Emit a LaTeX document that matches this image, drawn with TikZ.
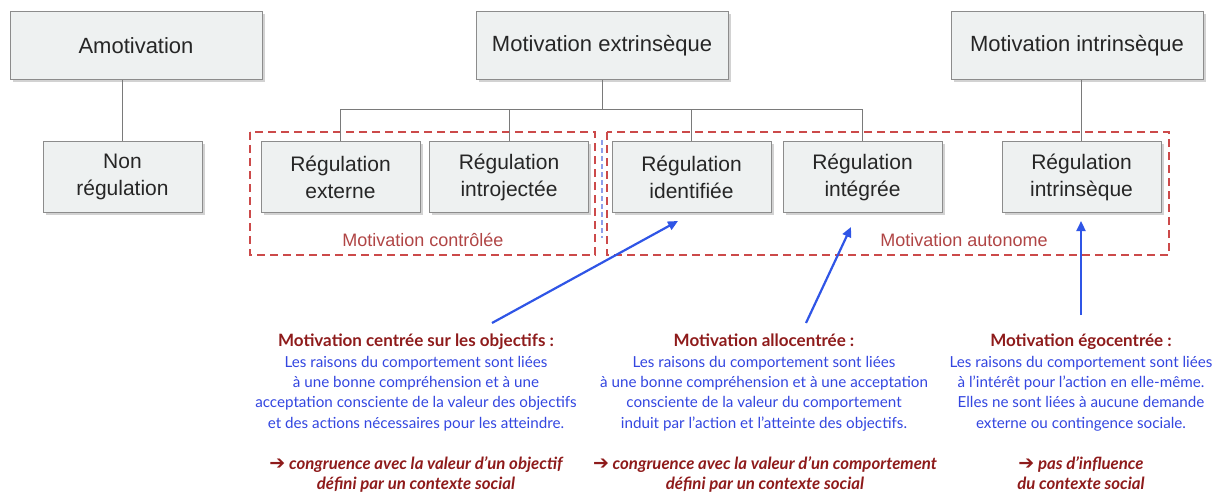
\documentclass[tikz,border=0pt]{standalone}
\usepackage{fontspec}
\setmainfont{Liberation Sans}
\newfontfamily\gill{Lato}
\newfontfamily\arrowfont{DejaVu Sans}
\usetikzlibrary{shadows,arrows.meta}
\definecolor{boxfill}{HTML}{EEF1F1}
\definecolor{boxline}{HTML}{8C8C8C}
\definecolor{treeline}{HTML}{7A7A7A}
\definecolor{framered}{HTML}{CC4A4A}
\definecolor{labelred}{HTML}{B04545}
\definecolor{titlered}{HTML}{8E1B1B}
\definecolor{bodyblue}{HTML}{3346E0}
\definecolor{arrowblue}{HTML}{2F55E6}
\definecolor{dashblue}{HTML}{8E9EEA}
\tikzset{
  topbox/.style={draw=boxline, line width=1pt, fill=boxfill, minimum width=252pt, minimum height=68pt,
    inner sep=0pt, drop shadow={shadow xshift=2.5pt, shadow yshift=-2.5pt, fill=black!35},
    font=\fontsize{22}{26}\selectfont, text=black!85},
  regbox/.style={draw=boxline, line width=1pt, fill=boxfill, minimum width=159pt, minimum height=70pt,
    inner sep=0pt, align=center, drop shadow={shadow xshift=2.5pt, shadow yshift=-2.5pt, fill=black!35},
    font=\fontsize{21}{27}\selectfont, text=black!85},
  tree/.style={draw=treeline, line width=1pt},
  frame/.style={draw=framered, line width=1.8pt, dash pattern=on 8pt off 5pt},
  grplabel/.style={text=labelred, font=\fontsize{18}{20}\selectfont, inner sep=0pt},
  ttl/.style={text=titlered, font=\gill\bfseries\fontsize{17}{20}\selectfont, inner sep=0pt, anchor=base},
  body/.style={text=bodyblue, font=\gill\fontsize{15.2}{20.3}\selectfont, inner sep=0pt, align=center, anchor=north},
  concl/.style={text=titlered, font=\gill\bfseries\itshape\fontsize{16.8}{20}\selectfont, inner sep=0pt, align=center, anchor=north},
  arr/.style={draw=arrowblue, line width=2.2pt, -{Triangle[length=10pt,width=9pt]}},
}
\newcommand{\heavyarrow}{{\arrowfont\bfseries\fontsize{19}{20}\selectfont ➔}}
\begin{document}
\begin{tikzpicture}[x=1pt,y=-1pt]
\useasboundingbox (0,0) rectangle (1218,492);
% group frames
\draw[frame] (250,132) rectangle (595,255);
\draw[frame] (607,132) rectangle (1169,255);
\draw[draw=dashblue, line width=1.3pt, dash pattern=on 5pt off 3pt] (602,140) -- (602,238);
\node[grplabel] (lctrl) at (423,240) {Motivation contrôlée};
\node[grplabel] (lauto) at (964,240) {Motivation autonome};
% top boxes
\node[topbox] (amot) at (136,46) {Amotivation};
\node[topbox] (ext) at (602,46) {Motivation extrinsèque};
\node[topbox] (intr) at (1077,46) {Motivation intrinsèque};
\coordinate (bus) at (602,110);
% regulation boxes
\node[regbox] (nonreg) at (122.5,177) {Non\\régulation};
\node[regbox] (regext) at (340.5,177) {Régulation\\externe};
\node[regbox] (regintro) at (509,177) {Régulation\\introjectée};
\node[regbox] (regid) at (691.5,177) {Régulation\\identifiée};
\node[regbox] (regint) at (862.5,177) {Régulation\\intégrée};
\node[regbox] (regintr) at (1081.5,177) {Régulation\\intrinsèque};
% tree lines
\draw[tree] (nonreg.north) -- (nonreg.north |- amot.south);
\draw[tree] (ext.south) -- (bus);
\draw[tree] (regext.north) |- (regint.north |- bus) -- (regint.north);
\draw[tree] (regintro.north) -- (regintro.north |- bus);
\draw[tree] (regid.north) -- (regid.north |- bus);
\draw[tree] (regintr.north) -- (regintr.north |- intr.south);
% text blocks
\node[ttl] (t1) at (416,346) {Motivation centrée sur les objectifs :};
\node[body] (b1) at (416,356) {Les raisons du comportement sont liées\\à une bonne compréhension et à une\\acceptation consciente de la valeur des objectifs\\et des actions nécessaires pour les atteindre.};
\node[concl] (c1) at (416,456) {\heavyarrow{} congruence avec la valeur d’un objectif\\défini par un contexte social};
\node[ttl] (t2) at (764,346) {Motivation allocentrée :};
\node[body] (b2) at (764,356) {Les raisons du comportement sont liées\\à une bonne compréhension et à une acceptation\\consciente de la valeur du comportement\\induit par l’action et l’atteinte des objectifs.};
\node[concl] (c2) at (765,456) {\heavyarrow{} congruence avec la valeur d’un comportement\\défini par un contexte social};
\node[ttl] (t3) at (1081,346) {Motivation égocentrée :};
\node[body] (b3) at (1081,356) {Les raisons du comportement sont liées\\à l’intérêt pour l’action en elle-même.\\Elles ne sont liées à aucune demande\\externe ou contingence sociale.};
\node[concl] (c3) at (1081,456) {\heavyarrow{} pas d’influence\\du contexte social};
% arrows
\coordinate (s1) at (492,323);
\coordinate (e1) at (678,221);
\coordinate (s2) at (806,323);
\coordinate (e2) at (851,227);
\coordinate (s3) at (1081,315);
\coordinate (e3) at (1081,221);
\draw[arr] (s1) -- (e1);
\draw[arr] (s2) -- (e2);
\draw[arr] (s3) -- (e3);
\end{tikzpicture}
\end{document}
